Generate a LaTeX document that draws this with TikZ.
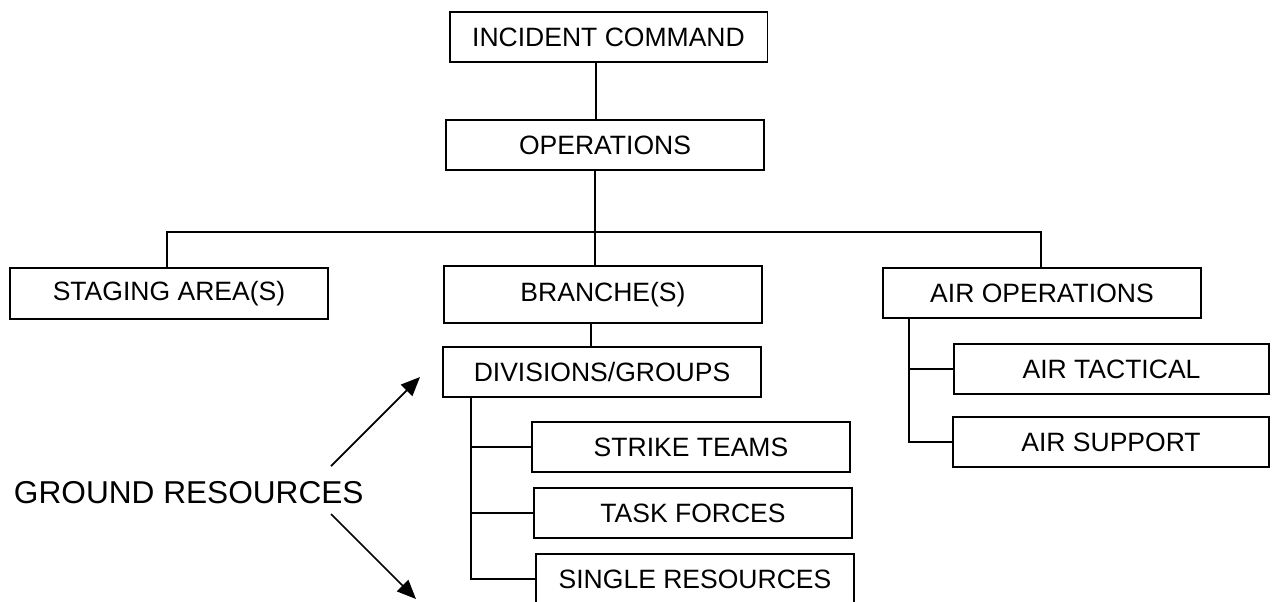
\documentclass[tikz,border=0pt]{standalone}
\usepackage{fontspec}
\setmainfont{Liberation Sans}
\usetikzlibrary{arrows.meta}

\begin{document}
\begin{tikzpicture}[x=0.02cm, y=-0.02cm, line width=1.1pt,
  every node/.style={font=\fontsize{15.1}{18}\selectfont},
  cbox/.style={draw, minimum width=6.36cm, minimum height=1cm, inner sep=0pt},
  ptr/.style={-{Triangle[length=0.38cm, width=0.32cm]}, line width=1pt}]
  \useasboundingbox (0,0) rectangle (1272,602);
  \node[cbox] (ic) at (608.5,37) {INCIDENT COMMAND};
  \node[cbox] (ops) at (605,145) {OPERATIONS};
  \node[cbox, minimum height=1.02cm] (stag) at (169,293.5) {STAGING AREA(S)};
  \node[cbox, minimum height=1.14cm] (branch) at (603,294.5) {BRANCHE(S)};
  \node[cbox] (airops) at (1042,293) {AIR OPERATIONS};
  \node[cbox] (div) at (602,372) {DIVISIONS/GROUPS};
  \node[cbox] (strike) at (691,447) {STRIKE TEAMS};
  \node[cbox] (task) at (693,513) {TASK FORCES};
  \node[cbox] (single) at (695,579) {SINGLE RESOURCES};
  \node[cbox, minimum width=6.3cm] (airtac) at (1111.5,369) {AIR TACTICAL};
  \node[cbox, minimum width=6.32cm] (airsup) at (1111,442) {AIR SUPPORT};
  \node[font=\fontsize{18}{22}\selectfont, anchor=base west, inner sep=0pt] (ground) at (13,503) {GROUND RESOURCES};

  \coordinate (top) at (596,0);
  \coordinate (sx) at (167,232);
  \coordinate (bx) at (595,232);
  \coordinate (ax) at (1041,232);
  \coordinate (dx) at (591,0);
  \coordinate (gx) at (471,0);
  \coordinate (rx) at (909,0);
  \draw (ic.south -| top) -- (ops.north -| top);
  \draw (ops.south -| bx) -- (bx) -- (branch.north -| bx);
  \draw (stag.north -| sx) -- (sx) -- (ax) -- (airops.north -| ax);
  \draw (branch.south -| dx) -- (div.north -| dx);
  \draw (div.south -| gx) |- (single.west);
  \foreach \n in {strike, task}
    {\draw (\n.west) -- (\n.west -| gx);}
  \draw (airops.south -| rx) |- (airsup.west);
  \draw (airtac.west) -- (airtac.west -| rx);

  \coordinate (gu) at (331,466);
  \coordinate (gd) at (331,514);
  \coordinate (tu) at (420,377);
  \coordinate (td) at (416,599);
  \draw[ptr] (gu) -- (tu);
  \draw[ptr] (gd) -- (td);
\end{tikzpicture}
\end{document}
